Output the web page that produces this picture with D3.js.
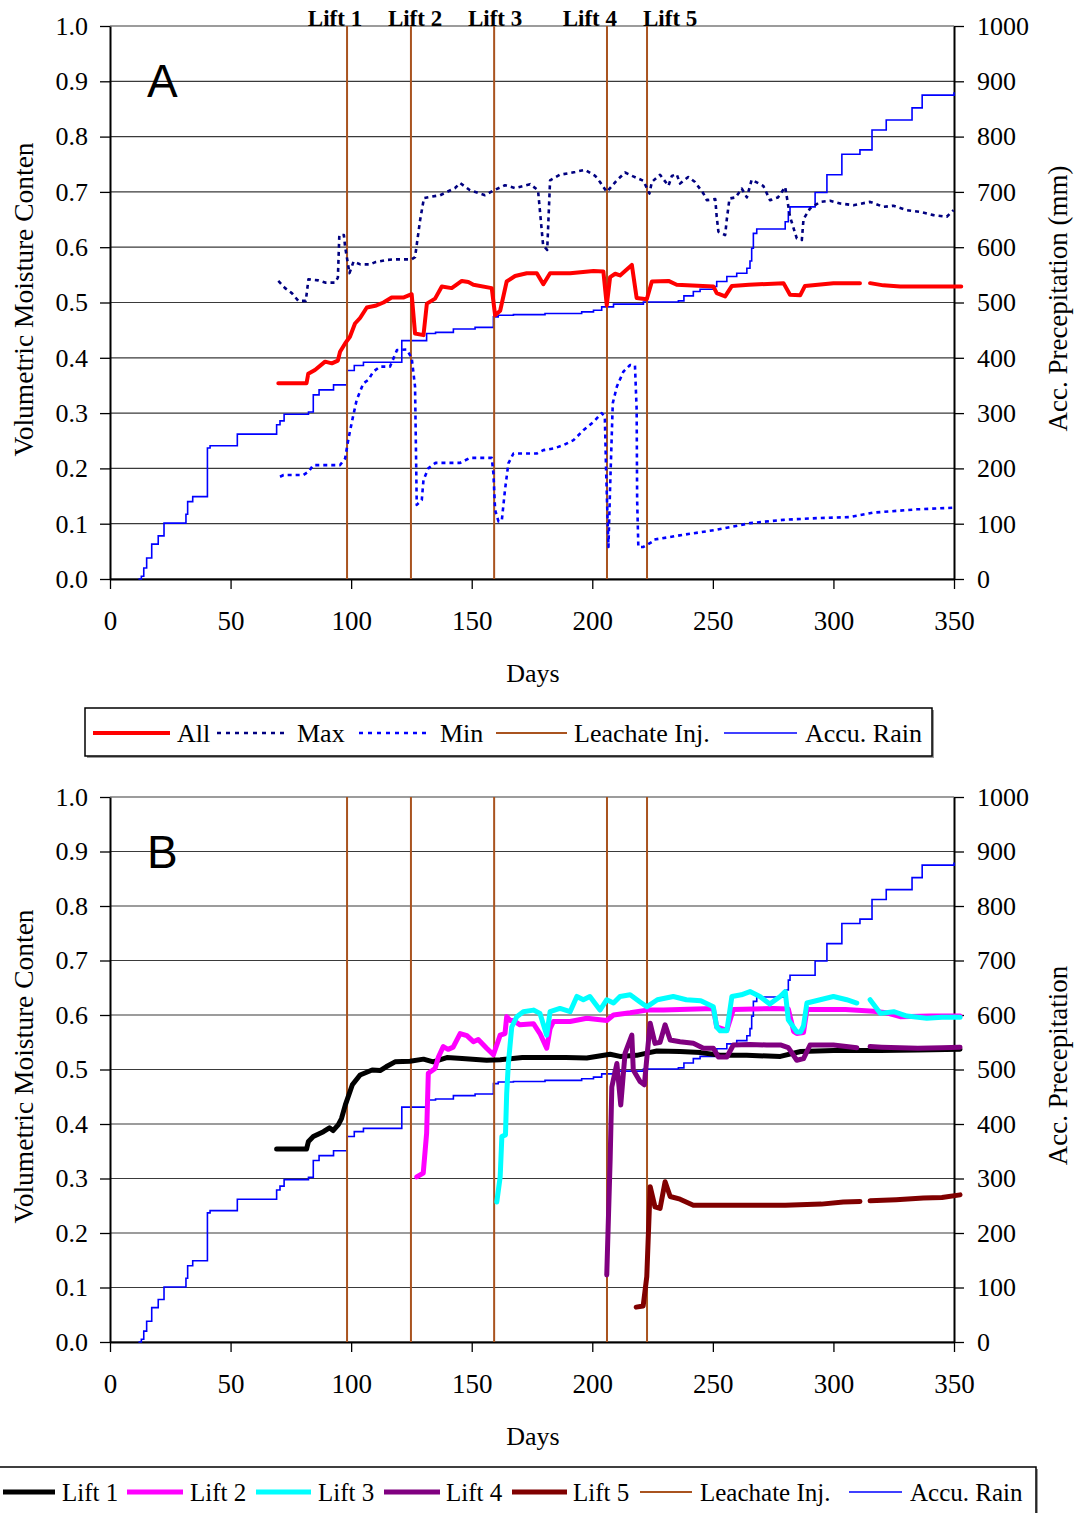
<!DOCTYPE html>
<html>
<head>
<meta charset="utf-8">
<script src="https://cdn.jsdelivr.net/npm/d3@7"></script>
<style>
  html, body { margin: 0; padding: 0; background: #fff; }
  svg { display: block; font-family: "Liberation Serif", "Times New Roman", serif; }
</style>
</head>
<body>
<svg id="chart" width="1075" height="1513"></svg>
<script>
// ---- data -------------------------------------------------------------
const dayTicks = [0, 50, 100, 150, 200, 250, 300, 350];
const moistureTicks = [0, 0.1, 0.2, 0.3, 0.4, 0.5, 0.6, 0.7, 0.8, 0.9, 1.0];
const rainTicks = [0, 100, 200, 300, 400, 500, 600, 700, 800, 900, 1000];

const injectionDays = [98.3, 124.8, 159.3, 206.1, 222.7];
const liftNames = ["Lift 1", "Lift 2", "Lift 3", "Lift 4", "Lift 5"];
const liftLabelDays = [93.3, 126.5, 159.7, 199, 232.3];

// accumulated rainfall, mm (step starts)
const accuRain = [
  [11.8, 0], [13, 5], [14, 20], [15.2, 38], [17.3, 63], [20, 78], [22.4, 101],
  [31.5, 117], [32.2, 140], [34.3, 149], [40.4, 237], [41.5, 241], [52.8, 262],
  [69.1, 279], [70.5, 286], [72.2, 298], [82.3, 302], [84.3, 333], [86.7, 342],
  [92.7, 351], [98.3, 377], [101.3, 386], [105.1, 392], [121, 431], [131.3, 444],
  [135, 446], [142.4, 452], [151.4, 455], [159, 474], [161, 477], [167.3, 478],
  [180.4, 480], [195.6, 483], [200.5, 486], [203.9, 492], [208.8, 497], [221.2, 501],
  [235.7, 503], [238, 512], [241.9, 520], [244.7, 524], [250.9, 529], [251.6, 538],
  [255.8, 547], [259.9, 553], [264.1, 562], [265.4, 575], [266.1, 598], [266.8, 625],
  [268.2, 633], [280, 646], [281.3, 664], [282, 673], [292.4, 699], [297.3, 731],
  [303.5, 768], [311, 776], [316, 812], [321.9, 830], [332.6, 852], [336.8, 875],
  [350, 880]
];

// panel A: average, maximum and minimum moisture content
const allMoisture = [
  [69.8, 0.354], [81.5, 0.354], [82.2, 0.371], [85, 0.378], [89.2, 0.393], [92, 0.390],
  [94.5, 0.395], [95.4, 0.411], [97.5, 0.426], [99.5, 0.438], [101.6, 0.462], [103.7, 0.472],
  [106.5, 0.491], [110, 0.494], [113.4, 0.500], [116.8, 0.509], [121.6, 0.509], [125.1, 0.515],
  [126.5, 0.444], [130, 0.441], [131.4, 0.498], [134.8, 0.507], [137.6, 0.529], [141.7, 0.526],
  [145.9, 0.539], [148.6, 0.537], [150.7, 0.532], [158.3, 0.526], [159.7, 0.477], [161.8, 0.485],
  [164.5, 0.538], [168, 0.548], [172.8, 0.553], [177, 0.553], [179.7, 0.533], [182.5, 0.553],
  [190.8, 0.553], [200.5, 0.557], [204.6, 0.556], [206, 0.495], [207.4, 0.546], [209.5, 0.552],
  [211.5, 0.549], [216.4, 0.568], [218.4, 0.508], [222.6, 0.506], [224.7, 0.538], [231.6, 0.539],
  [235, 0.532], [250.2, 0.529], [251.6, 0.517], [255.1, 0.511], [257.9, 0.530], [265, 0.532],
  [279.3, 0.535], [282, 0.514], [286.2, 0.513], [288.2, 0.530], [300, 0.535], [311, 0.535],
  [313, null], [315.2, 0.535], [320.7, 0.531], [327.7, 0.529], [340, 0.529], [353, 0.529]
];

const maxMoisture = [
  [69.8, 0.539], [72.6, 0.526], [75.4, 0.517], [78.1, 0.503], [81.2, 0.503], [82.3, 0.542],
  [86.4, 0.540], [89.2, 0.536], [93.3, 0.536], [94.5, 0.545], [95.1, 0.622], [97, 0.622],
  [97.5, 0.601], [99.3, 0.553], [101, 0.574], [103.8, 0.569], [107.9, 0.569], [110, 0.573],
  [114.8, 0.577], [118.2, 0.578], [125.1, 0.578], [126.5, 0.582], [128.6, 0.649], [130.2, 0.689],
  [136.9, 0.694], [143.1, 0.707], [145.2, 0.716], [149.3, 0.703], [155.5, 0.694], [159.3, 0.703],
  [163.8, 0.712], [168, 0.707], [174.2, 0.714], [177.5, 0.703], [179.6, 0.604], [181.3, 0.595],
  [182.5, 0.721], [186.6, 0.731], [192.9, 0.736], [197, 0.740], [201.2, 0.729], [203.2, 0.718],
  [206, 0.700], [210.2, 0.721], [213.6, 0.735], [217, 0.728], [221.2, 0.720], [223.7, 0.697],
  [224.7, 0.718], [228.1, 0.731], [231.6, 0.711], [233, 0.729], [235, 0.732], [236.4, 0.715],
  [239.8, 0.727], [242.6, 0.718], [246.1, 0.697], [247.5, 0.685], [251, 0.687], [251.6, 0.655],
  [252.3, 0.628], [255.1, 0.622], [255.8, 0.651], [256.9, 0.688], [259.4, 0.690], [262, 0.706],
  [264.1, 0.690], [266.1, 0.722], [270.9, 0.711], [273.7, 0.685], [277, 0.690], [280, 0.709],
  [282, 0.655], [284.8, 0.616], [286.9, 0.613], [287.6, 0.651], [290.3, 0.670], [294.5, 0.682],
  [298.6, 0.684], [302.8, 0.679], [308.3, 0.676], [315.2, 0.682], [320.7, 0.673], [324.9, 0.675],
  [330.4, 0.667], [335.9, 0.664], [341.5, 0.658], [347, 0.655], [349.8, 0.667]
];

const minMoisture = [
  [70.5, 0.185], [72, 0.188], [80.2, 0.188], [82.3, 0.194], [84.3, 0.206], [95.4, 0.206],
  [97.5, 0.218], [98.9, 0.254], [100.6, 0.290], [102.3, 0.324], [105.1, 0.354], [107.1, 0.360],
  [109.2, 0.375], [112, 0.384], [116.1, 0.384], [119, 0.414], [123, 0.415], [125.1, 0.400],
  [126.5, 0.348], [126.9, 0.227], [127.2, 0.134], [129.3, 0.143], [130, 0.179], [132, 0.200],
  [135, 0.210], [145.2, 0.210], [149.3, 0.219], [158.3, 0.219], [159, 0.191], [159.7, 0.125],
  [161.1, 0.104], [162.5, 0.107], [163.8, 0.161], [165.2, 0.209], [167.3, 0.227], [177, 0.227],
  [179.7, 0.233], [184, 0.236], [188, 0.242], [192.2, 0.251], [196.3, 0.269], [200.5, 0.284],
  [203.9, 0.300], [205.2, 0.294], [205.7, 0.200], [206.7, 0.058], [207.4, 0.167], [208.5, 0.318],
  [210.2, 0.348], [212.9, 0.375], [215.7, 0.387], [217.7, 0.386], [218.4, 0.306], [218.6, 0.143],
  [219.1, 0.058], [221.2, 0.058], [224.7, 0.067], [225.3, 0.071], [237.8, 0.080], [251.6, 0.089],
  [265.4, 0.101], [279.3, 0.107], [293.1, 0.110], [306.9, 0.112], [316.6, 0.120], [334.6, 0.126],
  [350.5, 0.129]
];

// panel B: moisture content per lift
const lift1 = [
  [69.1, 0.354], [81.5, 0.354], [82.3, 0.368], [84.3, 0.377], [88.5, 0.386], [91, 0.393],
  [92.5, 0.388], [94.7, 0.399], [96, 0.410], [97.6, 0.435], [100.5, 0.472], [103.7, 0.490],
  [108.7, 0.499], [112, 0.498], [114.5, 0.505], [118.2, 0.514], [124.4, 0.515], [130, 0.519],
  [134, 0.514], [139.7, 0.522], [146, 0.520], [156.2, 0.517], [161.8, 0.518], [171, 0.522],
  [180.7, 0.522], [189, 0.522], [197.7, 0.521], [207.4, 0.528], [211.5, 0.524], [218.4, 0.526],
  [222.6, 0.530], [226.8, 0.534], [236.4, 0.533], [245, 0.531], [253, 0.526], [264, 0.526],
  [278, 0.524], [286.4, 0.533], [300, 0.535], [319.4, 0.535], [335, 0.536], [352.5, 0.537]
];
const lift2 = [
  [127.2, 0.303], [129.9, 0.310], [131.3, 0.383], [132, 0.493], [134.8, 0.502], [136.2, 0.523],
  [138.2, 0.542], [140.2, 0.537], [142.3, 0.541], [145.2, 0.566], [148, 0.562], [150.7, 0.551],
  [152.7, 0.555], [156.2, 0.539], [159, 0.527], [160.4, 0.545], [161.8, 0.563], [163.8, 0.566],
  [164.5, 0.597], [165.9, 0.590], [167.3, 0.590], [170, 0.582], [175.6, 0.584], [178.3, 0.566],
  [181.1, 0.539], [182.5, 0.575], [183.9, 0.588], [190.8, 0.588], [197.7, 0.594], [206, 0.590],
  [208.8, 0.600], [215.7, 0.604], [222.6, 0.609], [229.5, 0.609], [236.4, 0.610], [250.2, 0.612],
  [251.6, 0.578], [255.8, 0.572], [258.5, 0.610], [275, 0.612], [281.3, 0.611], [283.5, 0.570],
  [284.8, 0.566], [287.6, 0.568], [289, 0.610], [305, 0.610], [316.6, 0.607], [322, 0.604],
  [327.7, 0.597], [340, 0.598], [352.5, 0.598]
];
const lift3 = [
  [160.4, 0.257], [161.8, 0.303], [162.5, 0.377], [164, 0.380], [164.5, 0.456], [165.2, 0.511],
  [166.6, 0.578], [168.7, 0.597], [171.4, 0.606], [175.6, 0.609], [178.3, 0.603], [181.1, 0.563],
  [182.5, 0.606], [186.6, 0.612], [190.8, 0.606], [193.6, 0.634], [196.3, 0.628], [199, 0.634],
  [203.2, 0.609], [206, 0.628], [208.8, 0.622], [211.5, 0.634], [215.7, 0.637], [219.8, 0.624],
  [222.6, 0.615], [227, 0.628], [233.6, 0.634], [239, 0.628], [245, 0.626], [250.2, 0.615],
  [251.6, 0.578], [253, 0.571], [255.8, 0.571], [257.9, 0.634], [261.8, 0.637], [265.4, 0.643],
  [269.5, 0.634], [273.6, 0.620], [277.9, 0.634], [280, 0.643], [281.3, 0.591], [284.8, 0.569],
  [286.4, 0.569], [287.6, 0.580], [289, 0.622], [294.5, 0.628], [300, 0.634], [305.5, 0.628],
  [309.7, 0.622], [312, null], [315.2, 0.628], [319.4, 0.603], [325, 0.606], [330.5, 0.598],
  [338.7, 0.594], [345, 0.596], [352.5, 0.596]
];
const lift4 = [
  [206, 0.123], [207.4, 0.334], [208.1, 0.468], [210.2, 0.511], [211.8, 0.435], [213.6, 0.530],
  [216.4, 0.563], [217, 0.499], [219.8, 0.478], [221.6, 0.472], [222.6, 0.520], [224, 0.585],
  [226, 0.548], [228.1, 0.550], [230.2, 0.582], [232.3, 0.554], [236.4, 0.551], [241.9, 0.548],
  [246.1, 0.539], [250.2, 0.539], [252.3, 0.523], [255.8, 0.523], [258.5, 0.545], [265.4, 0.546],
  [272.3, 0.545], [278, 0.545], [281.3, 0.540], [284.8, 0.517], [287.6, 0.520], [290.3, 0.545],
  [300, 0.545], [309.7, 0.540], [312, null], [315.2, 0.542], [320, 0.541], [335, 0.539],
  [345, 0.540], [352.5, 0.541]
];
const lift5 = [
  [218.2, 0.064], [221.1, 0.066], [222.6, 0.120], [224, 0.285], [226, 0.248], [228.1, 0.245],
  [230.2, 0.294], [232.3, 0.267], [236.4, 0.262], [241.9, 0.251], [260, 0.251], [280, 0.251],
  [295, 0.253], [304.1, 0.257], [311, 0.258], [312.5, null], [315.2, 0.259], [326, 0.261],
  [337.3, 0.264], [345, 0.265], [352.5, 0.270]
];

// ---- styles -----------------------------------------------------------
const COL = {
  all: "#ff0000", max: "#000080", min: "#0000ff", inj: "#a9531f", rain: "#0000ff",
  lift1: "#000000", lift2: "#ff00ff", lift3: "#00ffff", lift4: "#800080", lift5: "#800000"
};

const svg = d3.select("#chart");
const x = d3.scaleLinear().domain([0, 350]).range([110, 954]);

function drawPanel(top, bottom, letter, leftTitle, rightTitle, showLiftNames) {
  const y = d3.scaleLinear().domain([0, 1]).range([bottom, top]);
  const yr = d3.scaleLinear().domain([0, 1000]).range([bottom, top]);
  const g = svg.append("g");

  // horizontal grid
  g.append("g").selectAll("line").data(moistureTicks).join("line")
    .attr("x1", x(0)).attr("x2", x(350))
    .attr("y1", d => y(d)).attr("y2", d => y(d))
    .attr("stroke", "#3a3a3a").attr("stroke-width", 1.2);

  // axes
  const left = g.append("g").attr("transform", `translate(${x(0)},0)`)
    .call(d3.axisLeft(y).tickValues(moistureTicks).tickFormat(d3.format(".1f")).tickSize(10).tickSizeOuter(0).tickPadding(12));
  const right = g.append("g").attr("transform", `translate(${x(350)},0)`)
    .call(d3.axisRight(yr).tickValues(rainTicks).tickFormat(d3.format("d")).tickSize(10).tickSizeOuter(0).tickPadding(13));
  const bot = g.append("g").attr("transform", `translate(0,${bottom})`)
    .call(d3.axisBottom(x).tickValues(dayTicks).tickFormat(d3.format("d")).tickSize(10).tickSizeOuter(0).tickPadding(22));
  [left, right, bot].forEach(a => {
    a.select(".domain").attr("stroke", "#000").attr("stroke-width", 2);
    a.selectAll(".tick line").attr("stroke", "#000").attr("stroke-width", 1.3);
    a.selectAll(".tick text").attr("font-family", "Liberation Serif").attr("font-size", 26).attr("fill", "#000");
  });
  bot.selectAll(".tick text").attr("font-size", 27);

  // accumulated rain
  g.append("path").datum(accuRain)
    .attr("d", d3.line().x(d => x(d[0])).y(d => yr(d[1])).curve(d3.curveStepAfter))
    .attr("fill", "none").attr("stroke", COL.rain).attr("stroke-width", 1.6);

  // leachate injection events
  g.append("g").selectAll("line").data(injectionDays).join("line")
    .attr("x1", d => x(d)).attr("x2", d => x(d))
    .attr("y1", y(0)).attr("y2", y(1))
    .attr("stroke", COL.inj).attr("stroke-width", 2);

  if (showLiftNames) {
    g.append("g").selectAll("text").data(liftNames).join("text")
      .attr("x", (d, i) => x(liftLabelDays[i])).attr("y", top)
      .attr("text-anchor", "middle").attr("font-weight", "bold")
      .attr("font-size", 23).text(d => d);
  }

  // panel letter
  g.append("text").attr("x", 147).attr("y", top + 71)
    .attr("font-family", "Liberation Sans, Arial, sans-serif").attr("font-size", 46)
    .text(letter);

  // axis titles
  const mid = (top + bottom) / 2;
  g.append("text").attr("transform", `translate(33,${mid - 3}) rotate(-90)`)
    .attr("text-anchor", "middle").attr("font-size", 27.5).text(leftTitle);
  g.append("text").attr("transform", `translate(1067,${mid - 4}) rotate(-90)`)
    .attr("text-anchor", "middle").attr("font-size", 27).text(rightTitle);
  g.append("text").attr("x", 533).attr("y", bottom + 103)
    .attr("text-anchor", "middle").attr("font-size", 26).text("Days");

  return { g, y };
}

function series(panel, data, color, width, dash) {
  const line = d3.line().defined(d => d[1] !== null)
    .x(d => x(d[0])).y(d => panel.y(d[1]));
  const p = panel.g.append("path").datum(data).attr("d", line)
    .attr("fill", "none").attr("stroke", color).attr("stroke-width", width)
    .attr("stroke-linejoin", "round");
  if (dash) p.attr("stroke-dasharray", dash);
  else p.attr("stroke-linecap", "round");
  return p;
}

// ---- panel A ----------------------------------------------------------
const A = drawPanel(26, 579, "A", "Volumetric Moisture Conten", "Acc. Precepitation (mm)", true);
series(A, maxMoisture, COL.max, 2.6, "4,4");
series(A, minMoisture, COL.min, 2.6, "4,4");
series(A, allMoisture, COL.all, 4);

// ---- panel B ----------------------------------------------------------
const B = drawPanel(797, 1342, "B", "Volumetric Moisture Conten", "Acc. Precepitation", false);
series(B, lift1, COL.lift1, 5);
series(B, lift2, COL.lift2, 5);
series(B, lift3, COL.lift3, 5);
series(B, lift4, COL.lift4, 5);
series(B, lift5, COL.lift5, 5);

// ---- legends ----------------------------------------------------------
function legend(box, items, yMid, fontSize) {
  const lg = svg.append("g");
  lg.append("rect").attr("x", box[0] + 2).attr("y", box[1] + 2).attr("width", box[2]).attr("height", box[3])
    .attr("fill", "#999");
  lg.append("rect").attr("x", box[0]).attr("y", box[1]).attr("width", box[2]).attr("height", box[3])
    .attr("fill", "#fff").attr("stroke", "#000").attr("stroke-width", 1.5);
  items.forEach(it => {
    const l = lg.append("line").attr("x1", it.x0).attr("x2", it.x1).attr("y1", yMid).attr("y2", yMid)
      .attr("stroke", it.color).attr("stroke-width", it.w);
    if (it.dash) l.attr("stroke-dasharray", it.dash);
    lg.append("text").attr("x", it.tx).attr("y", yMid + 9).attr("font-size", fontSize).text(it.label);
  });
}

legend([85, 708, 847, 48], [
  { label: "All", color: COL.all, w: 4, x0: 93, x1: 170, tx: 177 },
  { label: "Max", color: COL.max, w: 2.6, dash: "4,5", x0: 217, x1: 288, tx: 297 },
  { label: "Min", color: COL.min, w: 2.6, dash: "4,5", x0: 359, x1: 430, tx: 440 },
  { label: "Leachate Inj.", color: COL.inj, w: 2, x0: 496, x1: 567, tx: 574 },
  { label: "Accu. Rain", color: COL.rain, w: 1.6, x0: 724, x1: 797, tx: 805 }
], 733, 26);

legend([-4, 1467, 1040, 60], [
  { label: "Lift 1", color: COL.lift1, w: 5, x0: 3, x1: 55, tx: 62 },
  { label: "Lift 2", color: COL.lift2, w: 5, x0: 127, x1: 183, tx: 190 },
  { label: "Lift 3", color: COL.lift3, w: 5, x0: 256, x1: 311, tx: 318 },
  { label: "Lift 4", color: COL.lift4, w: 5, x0: 384, x1: 440, tx: 446 },
  { label: "Lift 5", color: COL.lift5, w: 5, x0: 512, x1: 567, tx: 573 },
  { label: "Leachate Inj.", color: COL.inj, w: 2, x0: 640, x1: 692, tx: 700 },
  { label: "Accu. Rain", color: COL.rain, w: 1.6, x0: 849, x1: 902, tx: 910 }
], 1492, 25);
</script>
</body>
</html>
